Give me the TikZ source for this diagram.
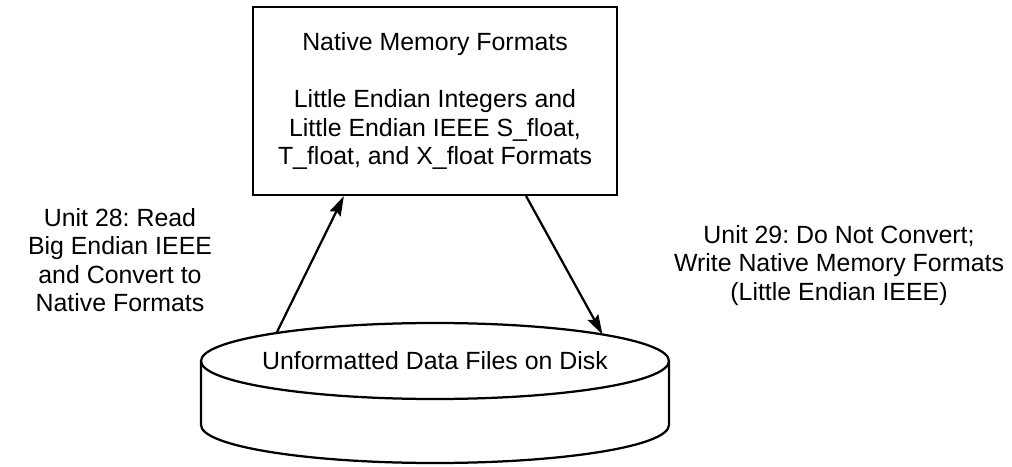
\documentclass[tikz,border=0pt]{standalone}
\usepackage{fontspec}
\setmainfont{Liberation Sans}
\usepackage{tikz}
\usetikzlibrary{arrows.meta,shapes.geometric}

\tikzset{
    label text/.style={align=center, font=\fontsize{17.7}{20.3}\selectfont},
    flow/.style={line width=1.6pt, -{Stealth[length=14pt,width=8.5pt,inset=2pt]}}
}

\frenchspacing
\begin{document}
\begin{tikzpicture}[line width=1.6pt]
    \useasboundingbox (0,0) rectangle (25.3,11.65);
    %Memory box
    \node[draw, label text, minimum width=9.1cm, minimum height=4.7cm] (box) at (10.875,9.125)
        {Native Memory Formats\\[\baselineskip]Little Endian Integers and\\Little Endian IEEE S\_float,\\T\_float, and X\_float Formats};
    %Disk
    \node[draw, ellipse, inner sep=0pt, outer sep=0pt, minimum width=11.7cm, minimum height=1.9cm] (disk) at (10.875,2.625) {};
    \draw (disk.west) -- ++(0,-1.6) arc (180:360:5.85 and 0.95) -- (disk.east);
    \node[label text] (disktext) at (disk.center) {Unformatted Data Files on Disk};
    %Read and write
    \draw[flow] (disk.170.9) to ([xshift=2.3cm]box.south west);
    \draw[flow] ([xshift=-2.3cm]box.south east) to (disk.9.1);
    %Unit labels
    \node[label text] (read) at (3.0,5.15) {Unit 28: Read\\Big Endian IEEE\\and Convert to\\Native Formats};
    \node[label text] (write) at (20.975,5.02) {Unit 29: Do Not Convert;\\Write Native Memory Formats\\(Little Endian IEEE)};
\end{tikzpicture}
\end{document}
